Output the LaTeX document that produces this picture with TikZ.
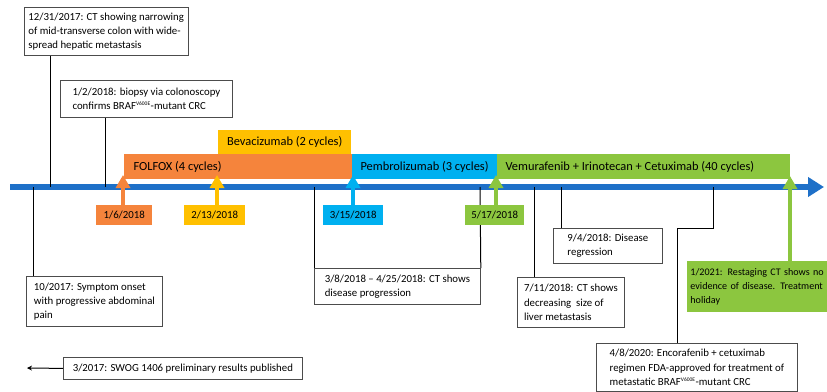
\documentclass[tikz,border=0pt]{standalone}
\usepackage{fontspec}
\setmainfont{Carlito}
\usetikzlibrary{arrows.meta}
\definecolor{tlblue}{HTML}{1E70C8}
\definecolor{folorange}{HTML}{F5843C}
\definecolor{bevyellow}{HTML}{FFC000}
\definecolor{pemblue}{HTML}{00B0F0}
\definecolor{vemgreen}{HTML}{8CC63F}
\newcommand{\vsup}{\textsuperscript{\fontsize{5.5}{6}\selectfont V600E}}
\tikzset{
  txt/.style={font=\fontsize{10.8}{14.2}\selectfont},
  infobox/.style={txt, draw=black!70, line width=0.8pt, fill=white, align=left,
    anchor=north west, inner xsep=4pt, inner ysep=2pt},
  bar/.style={font=\fontsize{12.4}{14}\selectfont, anchor=north west, inner sep=0pt, text height=9pt, text depth=3pt},
  datebox/.style={txt, anchor=north west, inner sep=0pt, minimum height=20pt, align=center},
  uparrow/.style={line width=4pt, -{Triangle[width=14pt,length=13pt]}},
  conn/.style={black, line width=1pt},
}
\begin{document}
\begin{tikzpicture}[x=1pt,y=-1pt]
\useasboundingbox (0,0) rectangle (827,391);
\clip (0,0) rectangle (827,391);

% timeline
\coordinate (tlstart) at (10,187);
\coordinate (tlend) at (824,187);
\draw[tlblue, line width=6pt, -{Triangle[width=19pt,length=16pt]}] (tlstart) -- (tlend);

% treatment bars
\node[bar, fill=bevyellow, minimum width=133pt, minimum height=24pt] (bev) at (218,130) {};
\node[font=\fontsize{12.4}{14}\selectfont] (bevt) at (bev.center) {Bevacizumab (2 cycles)};
\node[bar, fill=folorange, minimum width=228pt, minimum height=25pt] (folfox) at (124,154) {};
\node[font=\fontsize{12.4}{14}\selectfont, anchor=west] (folfoxt) at ([xshift=6pt]folfox.west) {FOLFOX (4 cycles)};
\node[bar, fill=pemblue, minimum width=145pt, minimum height=25pt] (pem) at (352,154) {};
\node[font=\fontsize{12.4}{14}\selectfont, anchor=west] (pemt) at ([xshift=5pt]pem.west) {Pembrolizumab (3 cycles)};
\node[bar, fill=vemgreen, minimum width=293pt, minimum height=25pt] (vem) at (497,154) {};
\node[font=\fontsize{12.4}{14}\selectfont, anchor=west] (vemt) at ([xshift=5pt]vem.west) {Vemurafenib + Irinotecan + Cetuximab (40 cycles)};

% info boxes
\node[infobox, minimum width=158pt, minimum height=48pt] (b1231) at (24,7)
  {12/31/2017: CT showing narrowing\\of mid-transverse colon with wide-\\spread hepatic metastasis};
\node[infobox, minimum width=172pt, minimum height=37pt] (b0102) at (60,80)
  {1/2/2018: biopsy via colonoscopy\\confirms BRAF\vsup-mutant CRC};
\node[infobox, minimum width=136pt, minimum height=50pt] (b1017) at (26,276)
  {10/2017: Symptom onset\\with progressive abdominal\\pain};
\node[infobox, minimum width=239pt, minimum height=22pt] (bswog) at (63,357)
  {3/2017: SWOG 1406 preliminary results published};
\node[infobox, minimum width=166pt, minimum height=36pt] (b0308) at (314,268)
  {3/8/2018 -- 4/25/2018: CT shows\\disease progression};
\node[infobox, minimum width=107pt, minimum height=50pt] (b0711) at (517,277)
  {7/11/2018: CT shows\\decreasing\ \ size of\\liver metastasis};
\node[infobox, minimum width=109pt, minimum height=35pt] (b0904) at (553,228)
  {9/4/2018: Disease\\regression};
\node[infobox, minimum width=201pt, minimum height=48pt] (b0408) at (596,343)
  {4/8/2020: Encorafenib + cetuximab\\regimen FDA-approved for treatment of\\metastatic BRAF\vsup-mutant CRC};
\node[infobox, draw=none, fill=vemgreen, inner xsep=3pt, text width=150pt,
  font=\fontsize{10.1}{14.2}\selectfont, minimum height=51pt] (b2021) at (687,261)
  {1/2021: Restaging CT shows no\\evidence of disease. Treatment\\holiday};

% connector coordinates on timeline
\coordinate (t1231) at (50,187);
\coordinate (t0102) at (105,187);
\coordinate (t1017) at (33,187);
\coordinate (t0308a) at (314,187);
\coordinate (t0308b) at (480,187);
\coordinate (t0711) at (534,187);
\coordinate (t0904) at (561,187);
\coordinate (t0408) at (713,187);
\coordinate (c0408) at (677,228);
\coordinate (aswog) at (27,368);

\draw[conn] (b1231.south -| t1231) -- (t1231);
\draw[conn] (b0102.south -| t0102) -- (t0102);
\draw[conn] (t1017) -- (t1017 |- b1017.north);
\draw[conn] (t0308a) -- (b0308.north west);
\draw[conn] (t0308b) -- (b0308.north east);
\draw[conn] (t0711) -- (t0711 |- b0711.north);
\draw[conn] (t0904) -- (t0904 |- b0904.north);
\draw[conn] (t0408) |- (c0408) -- (c0408 |- b0408.north);
\draw[conn, -{Stealth[length=5pt,width=5pt]}] (bswog.west) -- (aswog);

% date boxes and arrows
\node[datebox, fill=folorange, minimum width=56pt] (d0106) at (96,205) {1/6/2018};
\node[datebox, fill=bevyellow, minimum width=61pt] (d0213) at (184,205) {2/13/2018};
\node[datebox, fill=pemblue, minimum width=60pt] (d0315) at (323,205) {3/15/2018};
\node[datebox, fill=vemgreen, minimum width=59pt] (d0517) at (465,205) {5/17/2018};

\coordinate (a0106) at (123,175);
\coordinate (a0213) at (217,175);
\coordinate (a0315) at (353,175);
\coordinate (a0517) at (496,175);
\coordinate (a2021) at (790,176);

\draw[uparrow, folorange] (d0106.north -| a0106) -- (a0106);
\draw[uparrow, bevyellow] (d0213.north -| a0213) -- (a0213);
\draw[uparrow, pemblue] (d0315.north -| a0315) -- (a0315);
\draw[uparrow, vemgreen] (d0517.north -| a0517) -- (a0517);
\draw[uparrow, vemgreen] (b2021.north -| a2021) -- (a2021);
\end{tikzpicture}
\end{document}
